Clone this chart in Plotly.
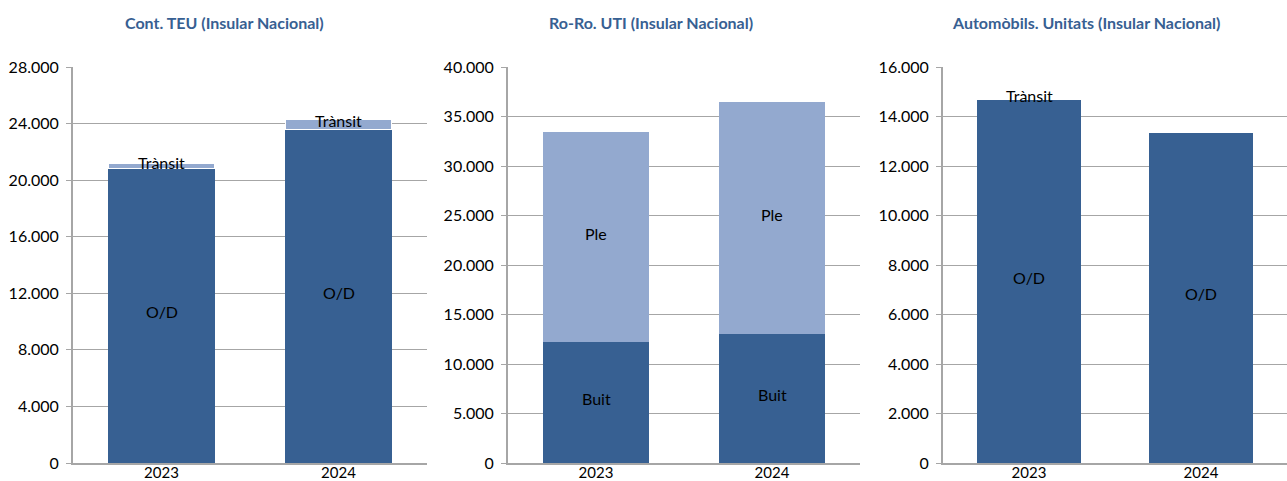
import plotly.graph_objects as go

years = ["2023", "2024"]

teu_od = [20850, 23600]
teu_transit = [300, 680]

roro_buit = [12220, 13030]
roro_ple = [21210, 23430]

auto_od = [14670, 13370]
auto_transit = [70, 0]

titles = ["Cont. TEU (Insular Nacional)", "Ro-Ro. UTI (Insular Nacional)",
          "Automòbils. Unitats (Insular Nacional)"]
title_x = [224 / 1287, 651 / 1287, 1086 / 1287]
y_ranges = [28000, 40000, 16000]
y_dticks = [4000, 5000, 2000]

DARK = "#376092"
LIGHT = "#93A9CF"
FONT = "Lato, Carlito, Liberation Sans, sans-serif"

panels = [
    (teu_od, teu_transit, "O/D", "Trànsit", True),
    (roro_buit, roro_ple, "Buit", "Ple", False),
    (auto_od, auto_transit, "O/D", "Trànsit", True),
]

x_domains = [[73 / 1287, 427 / 1287], [508 / 1287, 860 / 1287], [943 / 1287, 1.0]]
y_domain = [1 - 463 / 481, 1 - 67 / 481]

fig = go.Figure()
annotations = []

for i, (low, high, low_name, high_name, small_top) in enumerate(panels):
    ax = "" if i == 0 else str(i + 1)
    fig.add_trace(go.Bar(x=years, y=low, name=low_name, marker=dict(color=DARK, line=dict(width=0)),
                         xaxis="x" + ax, yaxis="y" + ax, showlegend=False))
    fig.add_trace(go.Bar(x=years, y=high, name=high_name,
                         marker=dict(color=LIGHT, line=dict(color="white", width=1 if small_top else 0)),
                         xaxis="x" + ax, yaxis="y" + ax, showlegend=False))
    for j, yr in enumerate(years):
        annotations.append(dict(x=j, y=low[j] / 2, xref="x" + ax, yref="y" + ax, text=low_name,
                                showarrow=False, yshift=4,
                                font=dict(family=FONT, size=16, color="black")))
        if high[j] > 0:
            annotations.append(dict(x=j, y=low[j] + high[j] / 2, xref="x" + ax, yref="y" + ax,
                                    text=high_name, showarrow=False, yshift=4,
                                    font=dict(family=FONT, size=16, color="black")))
    annotations.append(dict(x=title_x[i], y=1 - 22 / 481, xref="paper", yref="paper",
                            xanchor="center", yanchor="middle",
                            text="<b>" + titles[i] + "</b>", showarrow=False,
                            font=dict(family=FONT, size=16, color=DARK)))

    fig.update_layout(**{
        "xaxis" + ax: dict(domain=x_domains[i], anchor="y" + ax, type="category", automargin=False,
                           range=[-0.5, 1.5],
                           showline=True, linecolor="#A6A6A6",
                           linewidth=2, ticks="", tickfont=dict(family=FONT, size=15, color="black"),
                           ticklabelstandoff=-5,
                           showgrid=False, fixedrange=True),
        "yaxis" + ax: dict(domain=y_domain, anchor="x" + ax, range=[0, y_ranges[i]], dtick=y_dticks[i],
                           tick0=0, automargin=False, showline=True, linecolor="#A6A6A6", linewidth=2,
                           ticks="outside", ticklen=5, tickcolor="#A6A6A6", tickformat=",d",
                           ticklabelstandoff=4,
                           tickfont=dict(family=FONT, size=16, color="black"),
                           showgrid=True, gridcolor="#A6A6A6", gridwidth=1, zeroline=False,
                           fixedrange=True),
    })

fig.update_layout(
    width=1287, height=481, barmode="stack", bargap=0.4,
    margin=dict(l=0, r=0, t=0, b=0),
    paper_bgcolor="white", plot_bgcolor="white",
    separators=",.",
    annotations=annotations,
    font=dict(family=FONT),
)

fig.write_html("out.html", config={"displayModeBar": False},
               post_script="document.body.style.margin='0';")
